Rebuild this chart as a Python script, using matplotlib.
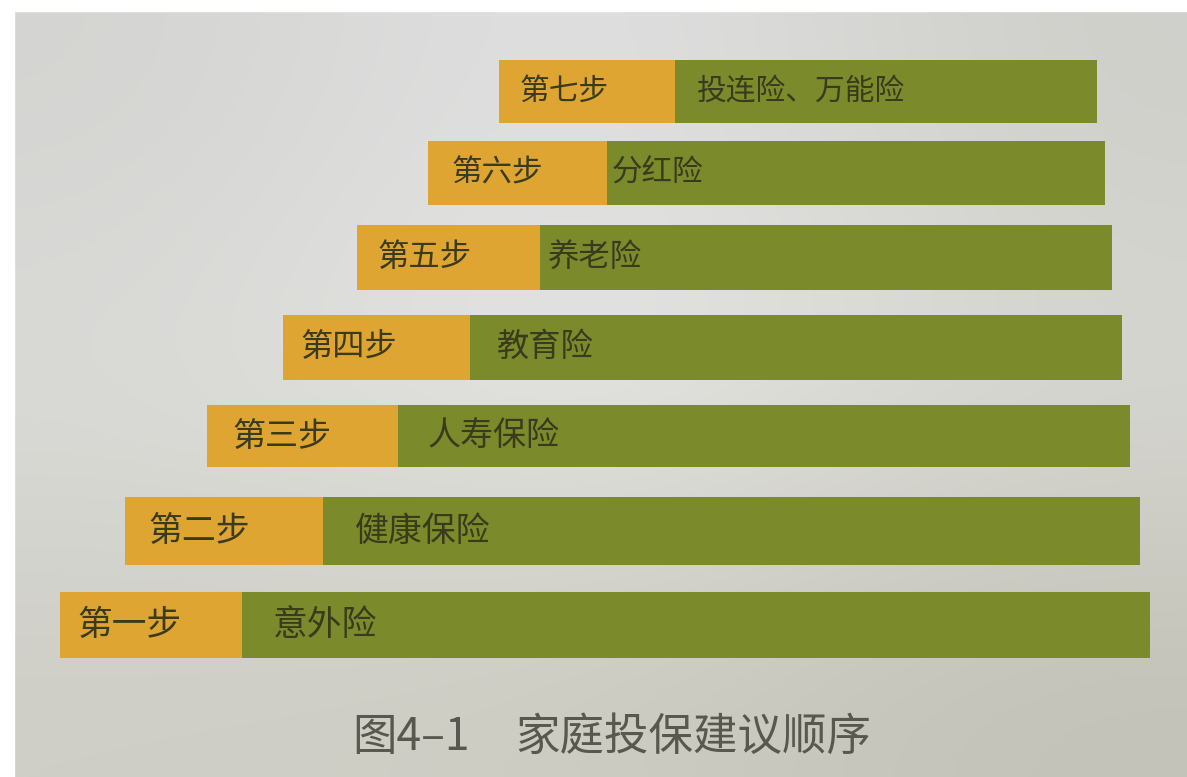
import matplotlib.pyplot as plt
import numpy as np

plt.rcParams['font.family'] = ['Noto Sans CJK SC', 'DejaVu Sans']

# 数据：从下到上（第一步 -> 第七步）
steps = ['第一步', '第二步', '第三步', '第四步', '第五步', '第六步', '第七步']
names = ['意外险', '健康保险', '人寿保险', '教育险', '养老险', '分红险', '投连险、万能险']
bar_start = [60, 125, 207, 283, 357, 428, 499]
bar_split = [242, 323, 398, 470, 540, 607, 675]
bar_end = [1150, 1140, 1130, 1122, 1112, 1105, 1097]

# 版面（像素坐标）
row_y = [625, 531, 436, 347, 257, 173, 91]
row_h = [66, 68, 62, 65, 65, 64, 63]
step_x = [77, 148, 232, 300, 378, 452, 520]
name_x = [273, 355, 428, 497, 548, 612, 697]
fig_no = '图4–1'
caption = '家庭投保建议顺序'

W, H = 1187, 777
fig = plt.figure(figsize=(W / 100, H / 100), dpi=100)
ax = fig.add_axes([0, 0, 1, 1])
ax.set_xlim(0, W)
ax.set_ylim(H, 0)
ax.axis('off')

# 纸面背景（照片的明暗）
bg = np.array([
    [[0.83, 0.83, 0.82], [0.89, 0.89, 0.90], [0.81, 0.81, 0.79]],
    [[0.86, 0.86, 0.85], [0.92, 0.92, 0.91], [0.85, 0.85, 0.83]],
    [[0.81, 0.81, 0.78], [0.80, 0.80, 0.76], [0.76, 0.76, 0.72]],
])
ax.imshow(bg, extent=(0, W, H, 0), interpolation='bicubic', aspect='auto', zorder=0)
ax.axhspan(0, 11, color='white', zorder=1)
ax.axvspan(0, 14, color='white', zorder=1)

yellow = '#dea532'
green = '#7b8a2b'
txt = '#3a3a1c'

left = np.array(bar_start)
split = np.array(bar_split)
end = np.array(bar_end)
ax.barh(row_y, split - left, left=left, height=row_h, color=yellow, zorder=2)
ax.barh(row_y, end - split, left=split, height=row_h, color=green, zorder=2)

for i in range(len(steps)):
    fs = 25 - i * 0.6
    ax.text(step_x[i], row_y[i], steps[i], fontsize=fs, color=txt,
            va='center', ha='left', zorder=3)
    ax.text(name_x[i], row_y[i], names[i], fontsize=fs, color=txt,
            va='center', ha='left', zorder=3)

ax.text(352, 737, fig_no, fontsize=32, color='#58584e', ha='left', va='center', zorder=3)
ax.text(515, 737, caption, fontsize=32, color='#58584e', ha='left', va='center', zorder=3)

plt.savefig('out.png', dpi=100)
plt.close()
